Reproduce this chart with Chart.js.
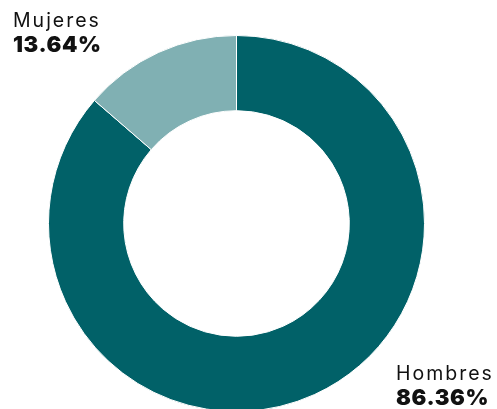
<!DOCTYPE html>
<html>
<head>
<meta charset="utf-8">
<script src="https://cdn.jsdelivr.net/npm/chart.js@4.4.1/dist/chart.umd.min.js"></script>
<style>
  html, body { margin: 0; padding: 0; background: #fff; overflow: hidden; width: 497px; height: 409px; }
  #wrap { position: absolute; left: 0; top: 0; width: 497px; height: 448px; }
  .lbl { position: absolute; font-family: Inter, "Noto Sans", sans-serif; color: #111; line-height: 1; white-space: nowrap; }
  .name { font-size: 19.5px; font-weight: 400; letter-spacing: 2px; }
  .pct { font-size: 22px; font-weight: 900; margin-top: 2px; letter-spacing: 0.6px; }
</style>
</head>
<body>
<div id="wrap"><canvas id="c"></canvas></div>
<div class="lbl" id="lblM" style="left:13px; top:11px;"></div>
<div class="lbl" id="lblH" style="left:396px; top:364px;"></div>
<script>
const categories = ['Hombres', 'Mujeres'];
const values = [86.36, 13.64];
const pctLabels = ['86.36%', '13.64%'];
const colors = ['#016168', '#80B0B3'];

function fillLabel(id, i) {
  const el = document.getElementById(id);
  el.innerHTML = '<div class="name">' + categories[i] + '</div><div class="pct">' + pctLabels[i] + '</div>';
}
fillLabel('lblH', 0);
fillLabel('lblM', 1);

new Chart(document.getElementById('c'), {
  type: 'doughnut',
  data: {
    labels: categories,
    datasets: [{
      data: values,
      backgroundColor: colors,
      borderColor: '#ffffff',
      borderWidth: 1,
      hoverOffset: 0
    }]
  },
  options: {
    responsive: true,
    maintainAspectRatio: false,
    animation: false,
    cutout: '60%',
    layout: { padding: { top: 35, bottom: 36, left: 0, right: 24 } },
    plugins: { legend: { display: false }, tooltip: { enabled: false } }
  }
});
</script>
</body>
</html>
